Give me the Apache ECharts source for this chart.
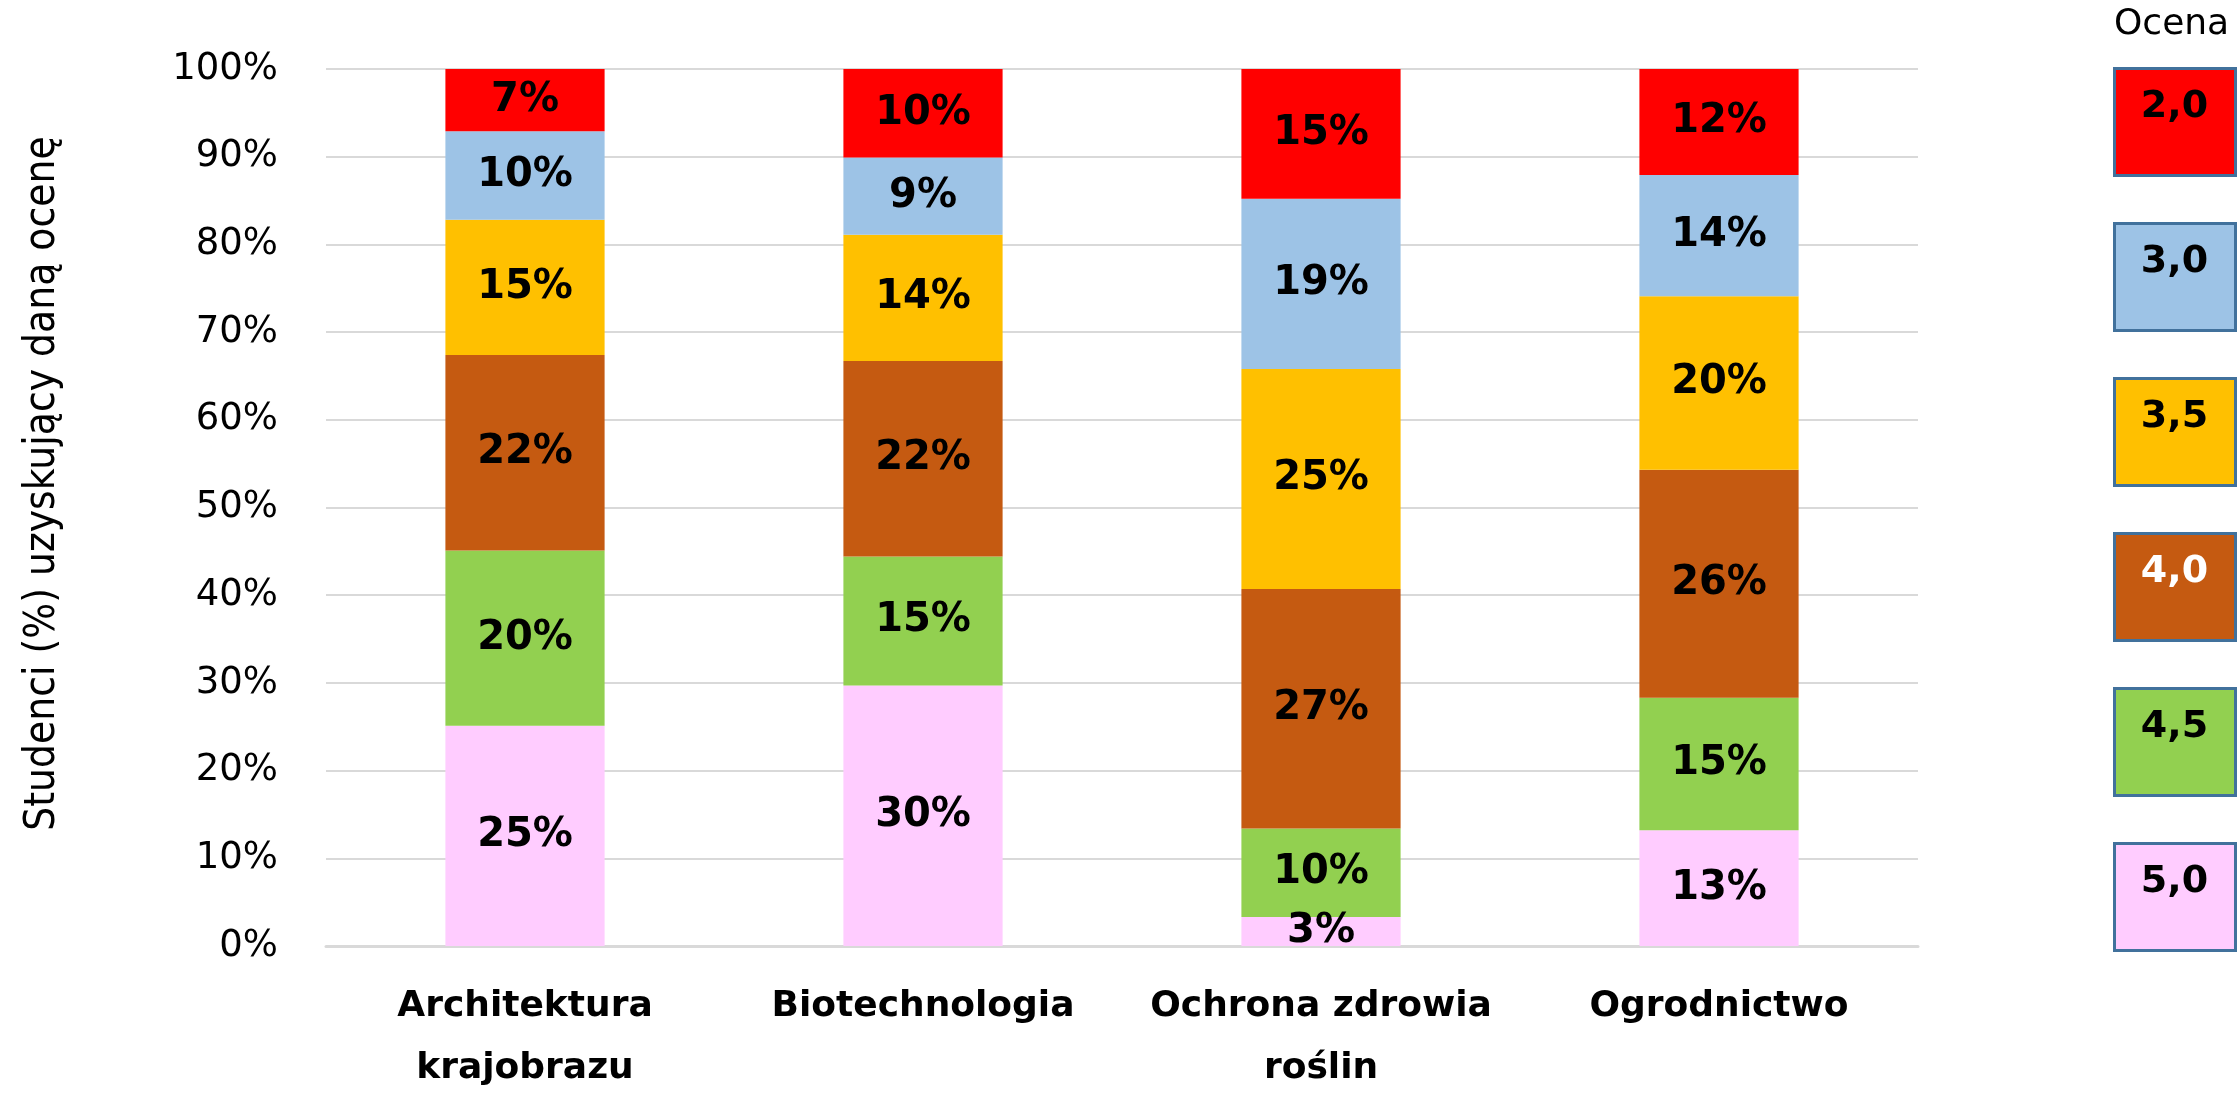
<!DOCTYPE html>
<html>
<head>
<meta charset="utf-8">
<script src="https://cdn.jsdelivr.net/npm/echarts@6/dist/echarts.min.js"></script>
<style>
html,body{margin:0;padding:0;background:#fff;}
#chart{width:2239px;height:1100px;}
</style>
</head>
<body>
<div id="chart"></div>
<script>
const categories = ['Architektura\nkrajobrazu', 'Biotechnologia', 'Ochrona zdrowia\nroślin', 'Ogrodnictwo'];
const grades = ['5,0', '4,5', '4,0', '3,5', '3,0', '2,0'];
const grade50 = [25.1, 29.7, 3.3, 13.2];
const grade45 = [20.0, 14.7, 10.1, 15.1];
const grade40 = [22.3, 22.3, 27.3, 26.0];
const grade35 = [15.4, 14.4, 25.1, 19.8];
const grade30 = [10.1, 8.8, 19.4, 13.8];
const grade20 = [7.1, 10.1, 14.8, 12.1];
const yTicks = [0, 10, 20, 30, 40, 50, 60, 70, 80, 90, 100];
const legendTitle = 'Ocena';
const yAxisTitle = 'Studenci (%) uzyskujący daną ocenę';

const seriesValues = [grade50, grade45, grade40, grade35, grade30, grade20];
const colors = ['#FFCCFF', '#92D050', '#C55A11', '#FFC000', '#9DC3E6', '#FF0000'];
const legendTextColors = ['#000', '#000', '#fff', '#000', '#000', '#000'];

const chart = echarts.init(document.getElementById('chart'));

const series = grades.map((g, i) => ({
  name: g,
  type: 'bar',
  stack: 'total',
  barWidth: '40%',
  data: seriesValues[i],
  itemStyle: { color: colors[i] },
  label: {
    show: true,
    position: 'inside',
    formatter: p => Math.round(p.value) + '%',
    color: '#000',
    fontFamily: 'DejaVu Sans',
    fontWeight: 'bold',
    fontSize: 40
  },
  emphasis: { disabled: true }
}));

// legend boxes (top -> bottom: 2,0 ... 5,0)
const legendOrder = grades.map((g, i) => i).reverse();
const legendGraphics = [{
  type: 'text',
  left: 2114,
  top: 7,
  style: { text: legendTitle, fontFamily: 'DejaVu Sans', fontSize: 36, fill: '#000' }
}];
legendOrder.forEach((si, k) => {
  legendGraphics.push({
    type: 'group',
    left: 2113,
    top: 67 + k * 155,
    children: [{
      type: 'rect',
      shape: { x: 0, y: 0, width: 121, height: 107 },
      style: { fill: colors[si], stroke: '#41719C', lineWidth: 3 }
    }, {
      type: 'text',
      x: 60,
      y: 39,
      style: {
        text: grades[si], align: 'center', verticalAlign: 'middle',
        fontFamily: 'DejaVu Sans', fontWeight: 'bold', fontSize: 38,
        fill: legendTextColors[si]
      }
    }]
  });
});

chart.setOption({
  animation: false,
  backgroundColor: '#fff',
  grid: { left: 326, right: 321, top: 69, bottom: 143, containLabel: false },
  xAxis: {
    type: 'category',
    data: categories,
    axisLine: { show: true, lineStyle: { color: '#D9D9D9', width: 3 } },
    axisTick: { show: false },
    axisLabel: {
      margin: 30,
      color: '#000',
      fontFamily: 'DejaVu Sans',
      fontWeight: 'bold',
      fontSize: 36,
      lineHeight: 62,
      interval: 0
    }
  },
  yAxis: {
    type: 'value',
    min: yTicks[0],
    max: yTicks[yTicks.length - 1],
    interval: yTicks[1] - yTicks[0],
    name: yAxisTitle,
    nameLocation: 'middle',
    nameGap: 262,
    nameTextStyle: {
      fontFamily: "'DejaVu Sans Condensed', 'Liberation Sans Narrow', 'Open Sans'",
      fontSize: 42, color: '#000', padding: [0, 0, 0, 48]
    },
    axisLine: { show: false },
    axisTick: { show: false },
    splitLine: { lineStyle: { color: '#D9D9D9', width: 2 } },
    axisLabel: {
      margin: 48,
      formatter: '{value}%',
      color: '#000',
      fontFamily: 'DejaVu Sans',
      fontSize: 37
    }
  },
  series: series,
  graphic: legendGraphics
});
</script>
</body>
</html>
